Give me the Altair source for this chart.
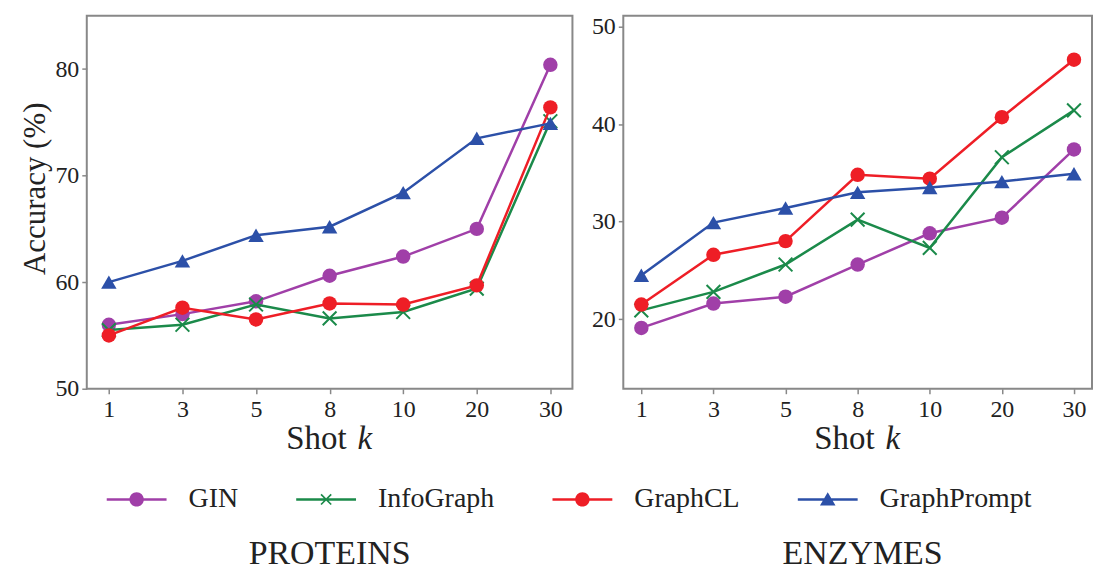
import math
import altair as alt
import pandas as pd

# ---------------- data ----------------
shots = ["1", "3", "5", "8", "10", "20", "30"]
series = ["GIN", "InfoGraph", "GraphCL", "GraphPrompt"]

proteins_gin = [56.0, 57.0, 58.2, 60.6, 62.4, 65.0, 80.4]
proteins_infograph = [55.5, 56.0, 57.9, 56.6, 57.2, 59.4, 75.1]
proteins_graphcl = [55.0, 57.6, 56.5, 58.0, 57.9, 59.7, 76.4]
proteins_graphprompt = [60.0, 62.0, 64.4, 65.2, 68.4, 73.5, 74.9]

enzymes_gin = [19.1, 21.6, 22.3, 25.6, 28.8, 30.4, 37.4]
enzymes_infograph = [20.9, 22.8, 25.6, 30.2, 27.3, 36.6, 41.4]
enzymes_graphcl = [21.5, 26.6, 28.0, 34.8, 34.4, 40.7, 46.6]
enzymes_graphprompt = [24.5, 29.9, 31.4, 33.0, 33.5, 34.1, 34.9]

proteins_ticks = [50, 60, 70, 80]
enzymes_ticks = [20, 30, 40, 50]

# ---------------- style ----------------
colors = ["#A03FA8", "#1B8A4A", "#EE1E26", "#2C50A8"]
FONT = "Liberation Serif"
TXT = "#222222"
FRAME = "#888888"

X_PATH = "M-1,-1L1,1M-1,1L1,-1"
plot_marks = [
    dict(shape="circle", filled=True, size=210),
    dict(shape=X_PATH, filled=False, size=190, strokeWidth=2),
    dict(shape="circle", filled=True, size=210),
    dict(shape="triangle-up", filled=True, size=240),
]


def poly(pts):
    area = 0.0
    for i in range(len(pts)):
        x1, y1 = pts[i]
        x2, y2 = pts[(i + 1) % len(pts)]
        area += x1 * y2 - x2 * y1
    if area < 0:
        pts = list(reversed(pts))
    return "M" + "L".join(f"{x:.4f},{y:.4f}" for x, y in pts) + "Z"


h = 0.042
LINE = poly([(-1, -h), (1, -h), (1, h), (-1, h)])
r = 0.24
CIRCLE = f"M{r},0A{r},{r} 0 1,1 {-r},0A{r},{r} 0 1,1 {r},0Z"
TRI = poly([(0, -0.24), (0.26, 0.2), (-0.26, 0.2)])
a, t = 0.17, 0.028
d = t / math.sqrt(2)
ARM1 = poly([(-a + d, -a - d), (a + d, a - d), (a - d, a + d), (-a - d, -a + d)])
ARM2 = poly([(-a - d, a - d), (a - d, -a - d), (a + d, -a + d), (-a + d, a + d)])
legend_shapes = [LINE + CIRCLE, LINE + ARM1 + ARM2, LINE + CIRCLE, LINE + TRI]


def build_df(values):
    rows = []
    for s, vals in zip(series, values):
        for k, v in zip(shots, vals):
            rows.append({"series": s, "shot": k, "acc": v})
    return pd.DataFrame(rows)


df_p = build_df([proteins_gin, proteins_infograph, proteins_graphcl, proteins_graphprompt])
df_e = build_df([enzymes_gin, enzymes_infograph, enzymes_graphcl, enzymes_graphprompt])

H = 374


def panel(df, W, ydom, yvals, title, ytitle, title_dx, with_legend, xpad):
    base = alt.Chart(df)
    xenc = alt.X(
        "shot:O",
        sort=shots,
        scale=alt.Scale(type="point", padding=xpad),
        axis=alt.Axis(title=None, labelAngle=0, labelPadding=4),
    )
    if ytitle:
        yaxis = alt.Axis(values=yvals, title=ytitle, labelPadding=3,
                         titleX=-42, titleY=173, titleBaseline="alphabetic")
    else:
        yaxis = alt.Axis(values=yvals, title=None, labelPadding=3)
    yenc = alt.Y("acc:Q", scale=alt.Scale(domain=ydom, nice=False, zero=False), axis=yaxis)

    layers = []
    for s, c, m in zip(series, colors, plot_marks):
        sub = base.transform_filter(alt.datum.series == s)
        layers.append(sub.mark_line(color=c, strokeWidth=2.5).encode(x=xenc, y=yenc))
        pm = dict(m)
        pm.setdefault("strokeWidth", 1)
        layers.append(sub.mark_point(color=c, opacity=1, **pm).encode(x=xenc, y=yenc))

    shot_df = pd.DataFrame({"t": ["Shot"]})
    k_df = pd.DataFrame({"t": ["k"]})
    layers.append(
        alt.Chart(shot_df).mark_text(align="right", baseline="alphabetic", font=FONT,
                                     fontSize=33, color=TXT)
        .encode(x=alt.value(W / 2 + 17), y=alt.value(H + 60), text="t:N")
    )
    layers.append(
        alt.Chart(k_df).mark_text(align="left", baseline="alphabetic", font=FONT,
                                  fontSize=33, fontStyle="italic", color=TXT)
        .encode(x=alt.value(W / 2 + 28), y=alt.value(H + 60), text="t:N")
    )

    if with_legend:
        leg = alt.Legend(
            orient="none", legendX=20, legendY=455, direction="horizontal", title=None,
            labelFont=FONT, labelFontSize=28, labelColor=TXT, symbolSize=3600,
            symbolStrokeWidth=0, labelOffset=22, columnPadding=58, padding=0,
            labelLimit=400, symbolOpacity=1,
        )
        layers.append(
            base.transform_filter("false").mark_point(filled=True, opacity=1).encode(
                color=alt.Color("series:N", scale=alt.Scale(domain=series, range=colors), legend=leg),
                shape=alt.Shape("series:N", scale=alt.Scale(domain=series, range=legend_shapes), legend=leg),
            )
        )

    return alt.layer(*layers).properties(
        width=W,
        height=H,
        title=alt.TitleParams(title, orient="bottom", anchor="middle", font=FONT, fontSize=34,
                              fontWeight="normal", color=TXT, offset=109,
                              baseline="alphabetic", dx=title_dx),
    )


left = panel(df_p, 487, [50, 85], proteins_ticks, "PROTEINS", "Accuracy (%)", 0, True, 0.3)
right = panel(df_e, 470, [12.87, 51.1], enzymes_ticks, "ENZYMES", None, 5, False, 0.25)

chart = (
    alt.hconcat(left, right, spacing=17)
    .properties(padding={"left": 11, "top": 4, "right": 0, "bottom": -7})
    .configure_view(stroke=FRAME, strokeWidth=2)
    .configure_axis(
        domain=False, grid=False, tickColor=FRAME, tickSize=5, tickWidth=1.5,
        labelFont=FONT, labelFontSize=24, labelColor=TXT,
        titleFont=FONT, titleFontSize=31, titleFontWeight="normal", titleColor=TXT,
    )
)

chart.save("out.html", embed_options={"renderer": "svg", "actions": False})
